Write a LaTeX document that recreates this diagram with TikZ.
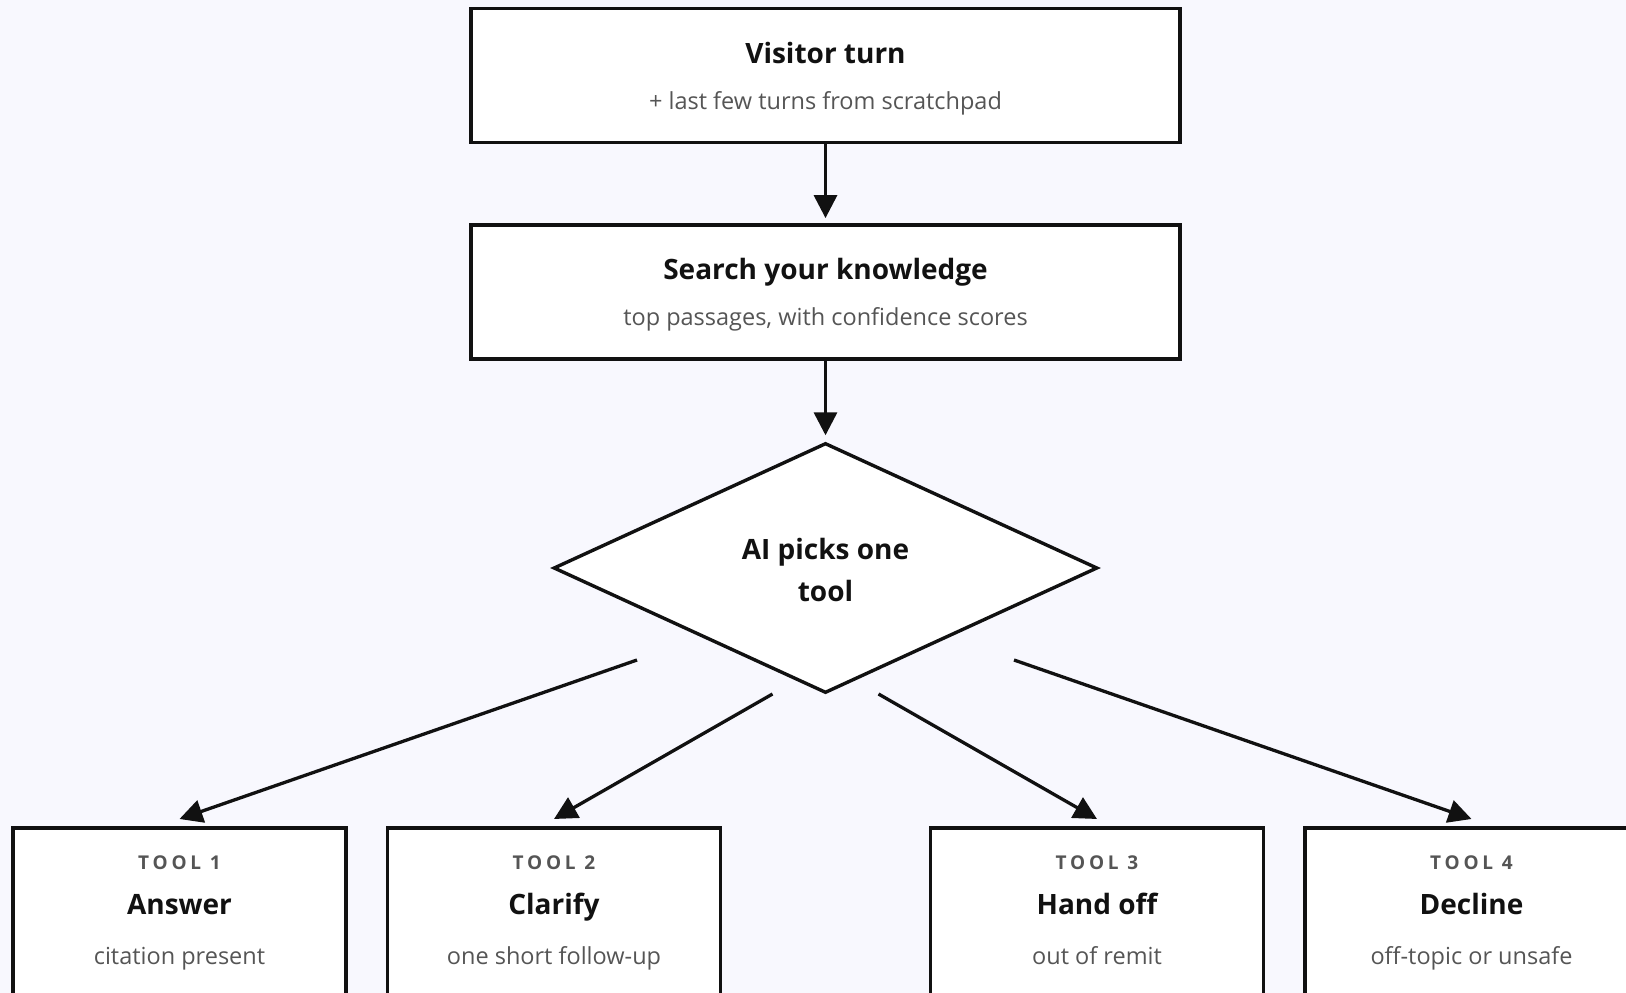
\documentclass[tikz,border=0pt]{standalone}
\usepackage{fontspec}
\setmainfont{Open Sans}
\usetikzlibrary{arrows.meta,shapes.geometric}

\definecolor{pagebg}{HTML}{F8F8FE}
\definecolor{ink}{HTML}{111111}
\definecolor{muted}{HTML}{555555}

\tikzset{
  box/.style={draw=ink, line width=3.8pt, fill=white, minimum width=709pt,
    minimum height=134pt, inner sep=0pt},
  toolbox/.style={draw=ink, line width=3.8pt, fill=white, minimum width=333pt,
    minimum height=204pt, inner sep=0pt, anchor=north},
  decision/.style={diamond, draw=ink, line width=3.4pt, fill=white,
    minimum width=544pt, minimum height=250pt, inner sep=0pt},
  title/.style={anchor=base, inner sep=0pt, text=ink,
    font=\fontsize{28}{34}\selectfont\bfseries},
  sub/.style={anchor=base, inner sep=0pt, text=muted,
    font=\fontsize{23.5}{28}\selectfont},
  kicker/.style={anchor=base, inner sep=0pt, text=muted,
    font=\fontsize{19}{23}\selectfont\bfseries\addfontfeatures{LetterSpace=20}},
  flow/.style={draw=ink, line width=3.3pt, -{Triangle[length=23pt,width=23pt]}},
}

\begin{document}
\begin{tikzpicture}[x=1pt, y=-1pt]
  % page
  \path[use as bounding box, fill=pagebg] (0,0) rectangle (1626,993);
  \clip (0,0) rectangle (1626,993);

  % input and retrieval
  \node[box] (visitor) at (825.5,75.5) {};
  \node[title] (visitorT) at (825.5,63) {Visitor turn};
  \node[sub] (visitorS) at (825.5,109) {+ last few turns from scratchpad};

  \node[box] (search) at (825.5,292) {};
  \node[title] (searchT) at (825.5,279.5) {Search your knowledge};
  \node[sub] (searchS) at (825.5,325.5) {top passages, with confidence scores};

  % decision
  \node[decision] (pick) at (825.5,568) {};
  \node[title] (pickA) at (825.5,559) {AI picks one};
  \node[title] (pickB) at (825.5,601) {tool};

  % tools
  \foreach \n/\x/\name/\note in {1/179.5/Answer/citation present,
                                  2/554/Clarify/one short follow-up,
                                  3/1097/Hand off/out of remit,
                                  4/1471.5/Decline/off-topic or unsafe}{
    \node[toolbox] (tool\n) at (\x,826) {};
    \node[kicker] (tool\n K) at (\x,869) {TOOL \n};
    \node[title] (tool\n T) at (\x,914) {\name};
    \node[sub] (tool\n S) at (\x,964) {\note};
  }

  % connectors
  \draw[flow, shorten >=5pt] (visitor.south) -- (search.north);
  \draw[flow, shorten >=6pt] (search.south) -- (pick.north);

  \coordinate (d1) at (637,660);
  \coordinate (d2) at (772.5,694);
  \coordinate (d3) at (878.5,694);
  \coordinate (d4) at (1014,660);

  \draw[flow] (d1) -- ([yshift=7pt]tool1.north);
  \draw[flow] (d2) -- ([yshift=7pt]tool2.north);
  \draw[flow] (d3) -- ([yshift=7pt]tool3.north);
  \draw[flow] (d4) -- ([yshift=7pt]tool4.north);
\end{tikzpicture}
\end{document}
